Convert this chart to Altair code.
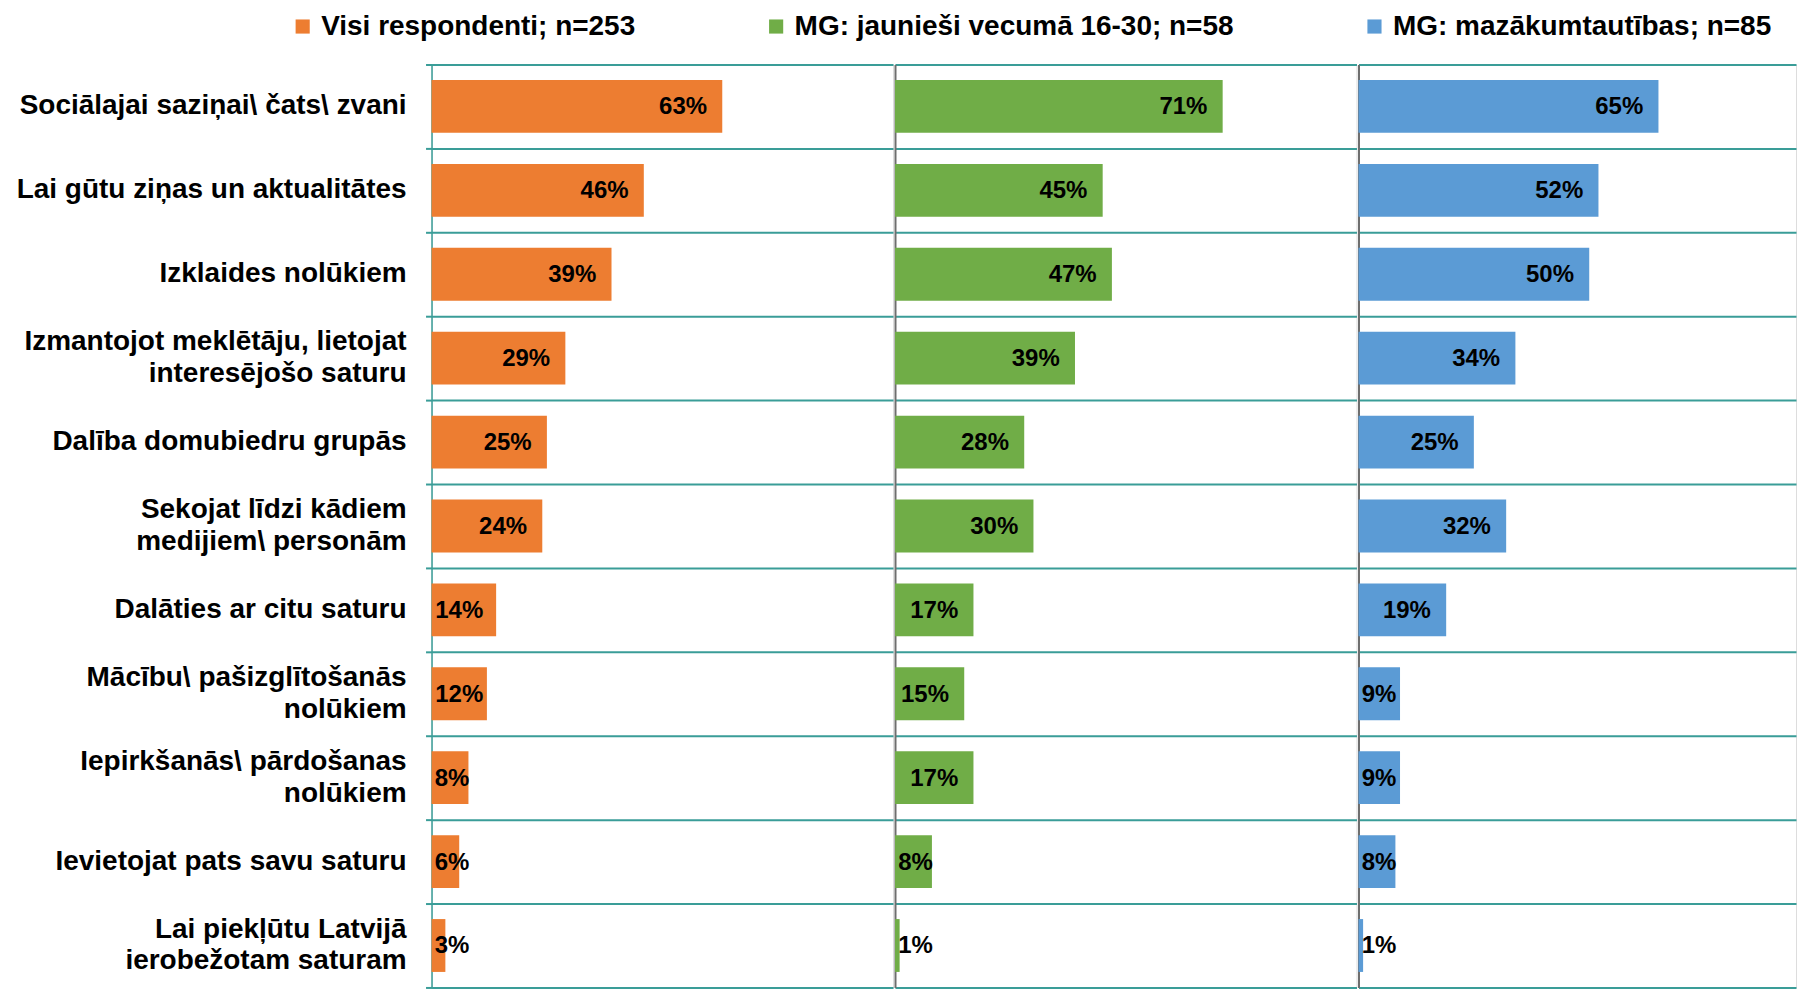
import altair as alt
import pandas as pd

categories = [
    "Sociālajai saziņai\\ čats\\ zvani",
    "Lai gūtu ziņas un aktualitātes",
    "Izklaides nolūkiem",
    "Izmantojot meklētāju, lietojat\ninteresējošo saturu",
    "Dalība domubiedru grupās",
    "Sekojat līdzi kādiem\nmedijiem\\ personām",
    "Dalāties ar citu saturu",
    "Mācību\\ pašizglītošanās\nnolūkiem",
    "Iepirkšanās\\ pārdošanas\nnolūkiem",
    "Ievietojat pats savu saturu",
    "Lai piekļūtu Latvijā\nierobežotam saturam",
]
series = [
    "Visi respondenti; n=253",
    "MG: jaunieši vecumā 16-30; n=58",
    "MG: mazākumtautības; n=85",
]
visi = [63, 46, 39, 29, 25, 24, 14, 12, 8, 6, 3]
jaunieši = [71, 45, 47, 39, 28, 30, 17, 15, 17, 8, 1]
mazakumtautibas = [65, 52, 50, 34, 25, 32, 19, 9, 9, 8, 1]
colors = ["#ED7D31", "#70AD47", "#5B9BD5"]

rows = []
for s, vals in zip(series, [visi, jaunieši, mazakumtautibas]):
    for c, v in zip(categories, vals):
        rows.append({"cat": c, "series": s, "v": v})
df = pd.DataFrame(rows)

TEAL = "#3a9d98"
FONT = "Liberation Sans"
yscale = alt.Scale(domain=categories, paddingInner=0, paddingOuter=0)
color = alt.Color(
    "series:N",
    scale=alt.Scale(domain=series, range=colors),
    legend=alt.Legend(
        orient="none", legendX=-143, legendY=-52, direction="horizontal",
        title=None, symbolType="square", symbolSize=200, symbolStrokeWidth=0,
        labelFont=FONT, labelFontWeight="bold", labelFontSize=28,
        labelColor="black", labelOffset=4.5, columnPadding=126, padding=0,
        labelLimit=600,
    ),
)

axis_first = alt.Axis(
    title=None, labels=False, domainColor=TEAL, domainWidth=1.5,
    tickBand="extent", grid=True, gridColor=TEAL, gridWidth=2, ticks=True,
    tickSize=6, tickColor=TEAL, tickWidth=2,
)
axis_other = alt.Axis(
    title=None, labels=False, ticks=False, domainColor="#6e6e6e", domainWidth=2,
    grid=True, gridColor=TEAL, gridWidth=2, tickBand="extent",
    minExtent=0, maxExtent=0,
)


def panel(i, width, xmax):
    base = alt.Chart(df).transform_filter(alt.datum.series == series[i]).encode(
        y=alt.Y("cat:N", scale=yscale, sort=None,
                axis=axis_first if i == 0 else axis_other)
    )
    xs = alt.Scale(domain=[0, xmax], nice=False, zero=True)
    bars = base.mark_bar(height={"band": 0.63}).encode(
        x=alt.X("v:Q", scale=xs, axis=None),
        color=color,
    )
    text = base.transform_calculate(
        lx="max(datum.v - 3.3, datum.v >= 10 ? 11.2 : 8.2)",
        lbl="datum.v + '%'",
    ).mark_text(
        align="right", baseline="middle", font=FONT,
        fontWeight="bold", fontSize=24, color="black", dy=1,
    ).encode(
        x=alt.X("lx:Q", scale=xs, axis=None),
        text="lbl:N",
    )
    layers = [bars, text]
    if i == 0:
        lab_style = dict(align="right", baseline="middle", font=FONT,
                         fontWeight="bold", fontSize=28, color="black",
                         lineBreak="\n", lineHeight=32)
        single = base.transform_filter(
            "indexof(datum.cat, '\\n') < 0"
        ).mark_text(**lab_style).encode(x=alt.value(-25), text="cat:N")
        double = base.transform_filter(
            "indexof(datum.cat, '\\n') >= 0"
        ).mark_text(dy=-16, **lab_style).encode(x=alt.value(-25), text="cat:N")
        layers += [single, double]
    return alt.layer(*layers).properties(width=width, height=924)


chart = alt.hconcat(
    panel(0, 462, 100), panel(1, 462, 100), panel(2, 438, 438 / 4.62),
    spacing=0,
).properties(
    padding={"left": 7, "top": 4, "right": 0, "bottom": 0}
).configure_view(stroke=None).configure(font=FONT)

chart.save("out.html", embed_options={"renderer": "svg", "actions": False})
